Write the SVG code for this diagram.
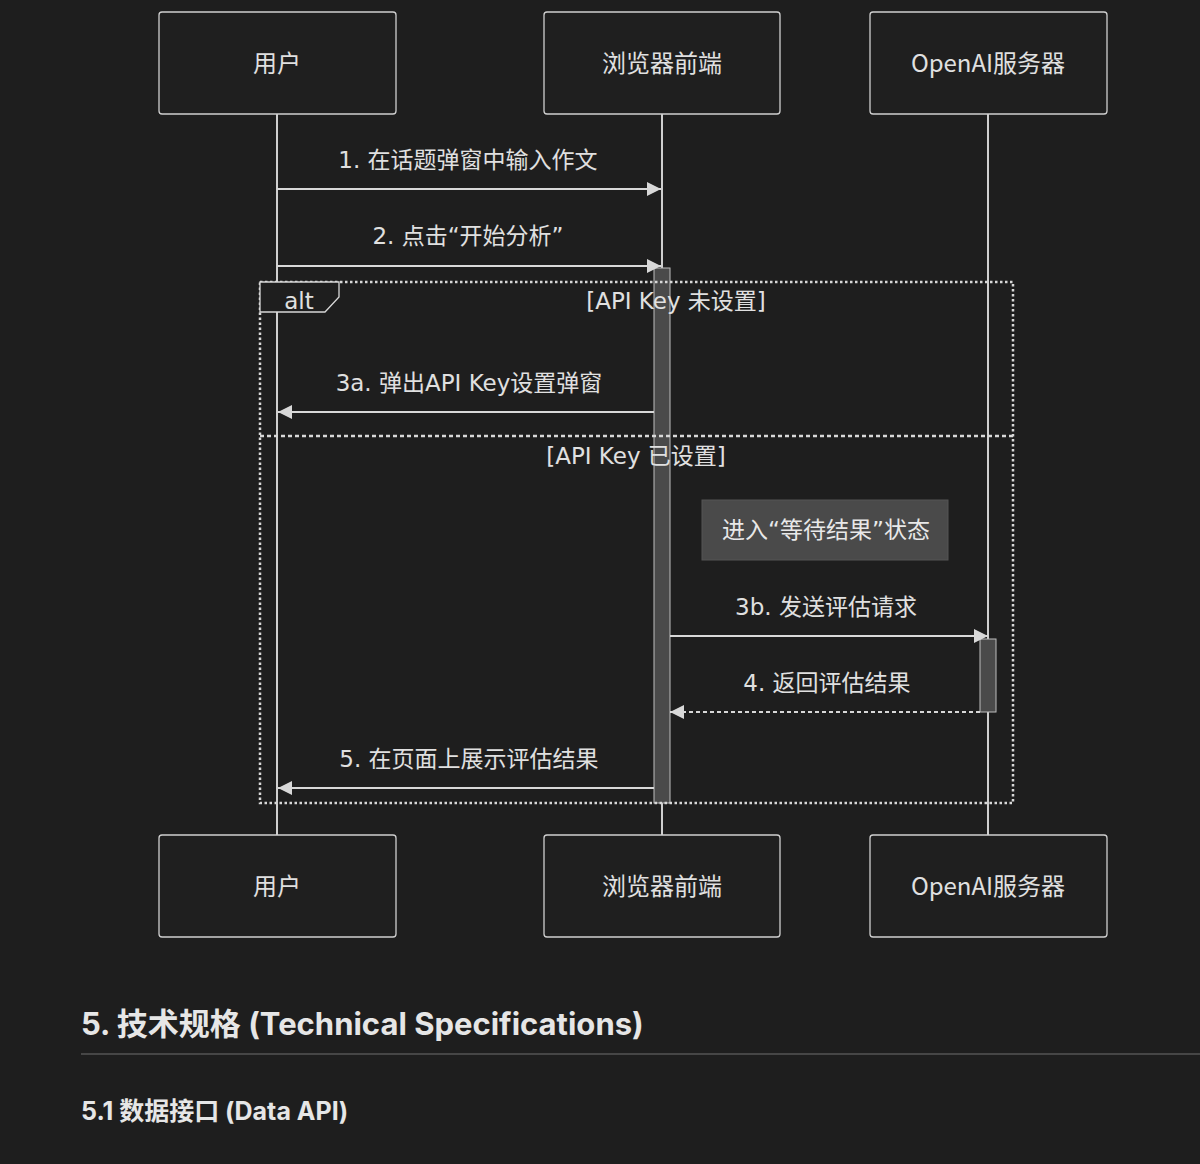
<svg xmlns="http://www.w3.org/2000/svg" width="1200" height="1164" viewBox="0 0 1200 1164">
<style>
.box{fill:#1f1f1f;stroke:#cfcfcf;stroke-width:1.3}
.t{font-family:"Noto Sans CJK SC","Noto Sans",sans-serif;fill:#e0e0e0;font-size:24px;text-anchor:middle}
.m{font-family:"DejaVu Sans","Noto Sans CJK SC",sans-serif;fill:#e0e0e0;font-size:23px;text-anchor:middle}
.life{stroke:#cfcfcf;stroke-width:2}
.msg{stroke:#d8d8d8;stroke-width:2;fill:none}
.act{fill:#4a4a4a;stroke:#bdbdbd;stroke-width:1}
.frame{fill:none;stroke:#d8d8d8;stroke-width:2.5;stroke-dasharray:2.5 2.5}
.h{font-family:"Inter","Noto Sans CJK SC",sans-serif;fill:#e6e6e6;font-weight:bold;text-anchor:start}
</style>
<defs><marker id="ah" markerWidth="14" markerHeight="14" refX="14" refY="7" orient="auto" markerUnits="userSpaceOnUse"><path d="M0,0 L14,7 L0,14 z" fill="#d8d8d8"/></marker></defs>
<rect width="1200" height="1164" fill="#1e1e1e"/>
<g id="lifelines">
<line class="life" x1="277" y1="114" x2="277" y2="835"/>
<line class="life" x1="662" y1="114" x2="662" y2="835"/>
<line class="life" x1="988" y1="114" x2="988" y2="835"/>
</g>
<g id="actor-user"><rect class="box" x="159" y="12" width="237" height="102" rx="3"/><text class="t" x="277" y="72">用户</text></g>
<g id="actor-browser"><rect class="box" x="544" y="12" width="236" height="102" rx="3"/><text class="t" x="662" y="72">浏览器前端</text></g>
<g id="actor-openai"><rect class="box" x="870" y="12" width="237" height="102" rx="3"/><text class="t" x="988" y="72">OpenAI服务器</text></g>
<g id="actor-user-b"><rect class="box" x="159" y="835" width="237" height="102" rx="3"/><text class="t" x="277" y="895">用户</text></g>
<g id="actor-browser-b"><rect class="box" x="544" y="835" width="236" height="102" rx="3"/><text class="t" x="662" y="895">浏览器前端</text></g>
<g id="actor-openai-b"><rect class="box" x="870" y="835" width="237" height="102" rx="3"/><text class="t" x="988" y="895">OpenAI服务器</text></g>
<g id="activations">
<rect class="act" x="654" y="268" width="16" height="535"/>
<rect class="act" x="980" y="639" width="16" height="73"/>
</g>
<g id="alt-frame">
<rect class="frame" x="260" y="282" width="753" height="521"/>
<line class="frame" x1="260" y1="436" x2="1013" y2="436" style="stroke-dasharray:4 3"/>
<path d="M260,282 H339 V297 L325,312 H260 Z" fill="#1e1e1e" stroke="#d8d8d8" stroke-width="1.3"/>
<text class="m" x="299" y="309">alt</text>
<text class="m" x="676" y="309">[API Key 未设置]</text>
<text class="m" x="636" y="464">[API Key 已设置]</text>
</g>
<g id="note"><rect x="702" y="500" width="246" height="60" fill="#4a4a4a" stroke="#555"/><text class="m" x="826" y="538" style="fill:#e8e8e8">进入“等待结果”状态</text></g>
<g id="connectors">
<line class="msg" x1="277" y1="189" x2="661" y2="189" marker-end="url(#ah)"/>
<text class="m" x="468" y="168">1. 在话题弹窗中输入作文</text>
<line class="msg" x1="277" y1="266" x2="661" y2="266" marker-end="url(#ah)"/>
<text class="m" x="468" y="244">2. 点击“开始分析”</text>
<line class="msg" x1="654" y1="412" x2="278" y2="412" marker-end="url(#ah)"/>
<text class="m" x="469" y="391">3a. 弹出API Key设置弹窗</text>
<line class="msg" x1="670" y1="636" x2="988" y2="636" marker-end="url(#ah)"/>
<text class="m" x="826" y="615">3b. 发送评估请求</text>
<line class="msg" x1="980" y1="712" x2="670" y2="712" marker-end="url(#ah)" style="stroke-dasharray:4 3"/>
<text class="m" x="827" y="691">4. 返回评估结果</text>
<line class="msg" x1="654" y1="788" x2="278" y2="788" marker-end="url(#ah)"/>
<text class="m" x="469" y="767">5. 在页面上展示评估结果</text>
</g>
<text class="h" x="81" y="1035" font-size="31">5. 技术规格 (Technical Specifications)</text>
<line x1="81" y1="1054" x2="1200" y2="1054" stroke="#555" stroke-width="1.5"/>
<text class="h" x="81" y="1120" font-size="25">5.1 数据接口 (Data API)</text>
</svg>
